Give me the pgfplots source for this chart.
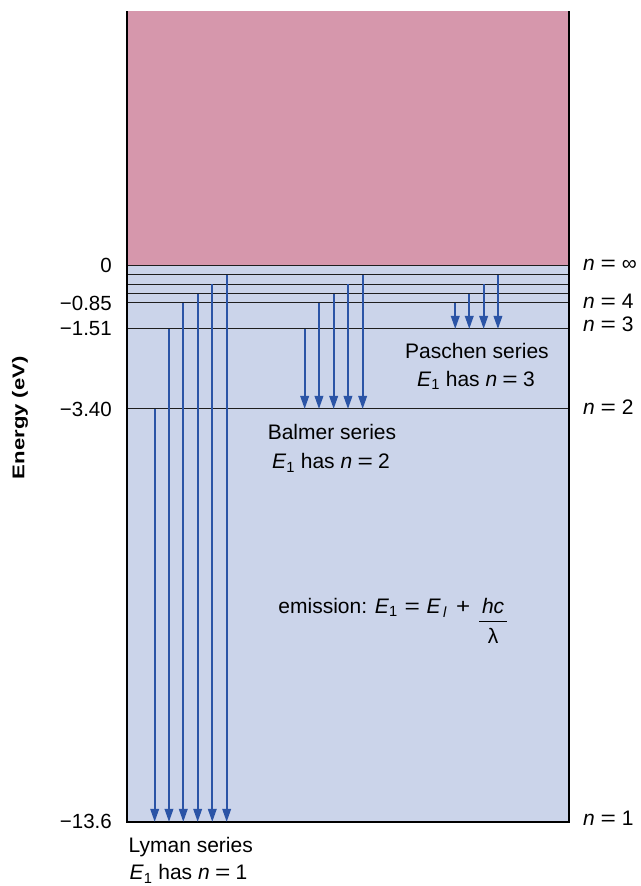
\documentclass[border=0pt]{standalone}
\usepackage{fontspec}
\setmainfont{Liberation Sans}
\usepackage{pgfplots}
\usepackage{pgfplotstable}
\pgfplotsset{compat=1.18}
\usetikzlibrary{arrows.meta}
\definecolor{vac}{RGB}{214,151,172}
\definecolor{bound}{RGB}{203,212,234}
\definecolor{arr}{RGB}{43,84,166}
\definecolor{lvl}{RGB}{30,30,30}
\newcommand{\eq}[1][0.25em]{\hspace{#1}\scalebox{1.25}[1]{=}\hspace{#1}}

% transitions: x position, start level, end level (display energy units)
\pgfplotstableread{
x y0 y1
154.7 -3.508 -13.59
169.0 -1.555 -13.59
183.3 -0.920 -13.59
197.7 -0.693 -13.59
212.3 -0.457 -13.59
226.7 -0.229 -13.59
304.7 -1.555 -3.508
319.0 -0.920 -3.508
333.7 -0.693 -3.508
348.0 -0.457 -3.508
362.7 -0.229 -3.508
455.3 -0.920 -1.555
469.3 -0.693 -1.555
483.7 -0.457 -1.555
498.0 -0.229 -1.555
}\transitions

\begin{document}
\begin{tikzpicture}[font=\fontsize{21}{25}\selectfont]
\begin{axis}[
  scale only axis, width=442pt, height=811pt,
  xmin=127, xmax=569, ymin=-13.59, ymax=6.208,
  clip=false,
  axis line style={draw=none},
  xtick=\empty,
  ytick={0,-0.920,-1.555,-3.508,-13.59},
  yticklabels={0,−0.85,−1.51,−3.40,−13.6},
  major tick length=0pt,
  yticklabel style={font=\fontsize{20.5}{24}\selectfont, inner sep=0pt, xshift=-15pt},
  ylabel={\scalebox{1.3}[1]{\fontsize{17}{20}\selectfont\bfseries Energy (eV)}},
  ylabel style={at={(axis description cs:-0.242,0.4985)}, anchor=center, inner sep=0pt},
]
% regions
\addplot[fill=vac, draw=none] coordinates {(127,0) (569,0) (569,6.208) (127,6.208)} -- cycle;
\addplot[fill=bound, draw=none] coordinates {(127,-13.59) (569,-13.59) (569,0) (127,0)} -- cycle;
% energy levels
\addplot[lvl, line width=1pt] coordinates {(127,0) (569,0)};
\addplot[lvl, line width=1pt] coordinates {(127,-0.229) (569,-0.229)};
\addplot[lvl, line width=1pt] coordinates {(127,-0.457) (569,-0.457)};
\addplot[lvl, line width=1pt] coordinates {(127,-0.693) (569,-0.693)};
\addplot[lvl, line width=1pt] coordinates {(127,-0.920) (569,-0.920)};
\addplot[lvl, line width=1pt] coordinates {(127,-1.555) (569,-1.555)};
\addplot[lvl, line width=1pt] coordinates {(127,-3.508) (569,-3.508)};
% frame
\addplot[black, line width=1.6pt] coordinates {(127,6.208) (127,-13.59) (569,-13.59) (569,6.208)};
% transitions
\addplot[arr, line width=1.9pt, no markers, -{Triangle[length=13pt,width=8.5pt]},
  quiver={u=0, v=\thisrow{y1}-\thisrow{y0}}] table[x=x, y=y0] {\transitions};
% level labels
\node[anchor=west, inner sep=0pt] at (axis cs:583,0) {\textit{n}\eq[0.28em]∞};
\node[anchor=west, inner sep=0pt] at (axis cs:583,-0.889) {\textit{n}\eq[0.28em]4};
\node[anchor=west, inner sep=0pt] at (axis cs:583,-1.433) {\textit{n}\eq[0.28em]3};
\node[anchor=west, inner sep=0pt] at (axis cs:583,-3.47) {\textit{n}\eq[0.28em]2};
\node[anchor=west, inner sep=0pt] at (axis cs:583,-13.51) {\textit{n}\eq[0.28em]1};
% series labels
\node[anchor=base, inner sep=0pt] at (axis cs:477,-2.270) {Paschen series};
\node[anchor=base, inner sep=0pt] at (axis cs:476,-2.947) {\textit{E}\textsubscript{1} has \textit{n}\eq 3};
\node[anchor=base, inner sep=0pt] at (axis cs:332,-4.265) {Balmer series};
\node[anchor=base, inner sep=0pt] at (axis cs:331,-4.973) {\textit{E}\textsubscript{1} has \textit{n}\eq 2};
\node[anchor=base, inner sep=0pt] at (axis cs:190.8,-14.348) {Lyman series};
\node[anchor=base, inner sep=0pt] at (axis cs:188.5,-15.007) {\textit{E}\textsubscript{1} has \textit{n}\eq 1};
\node[anchor=base west, inner sep=0pt] at (axis cs:278.3,-8.501) {emission: \textit{E}\textsubscript{1}\eq[0.32em]\textit{E}\textsubscript{\,\textit{l}}\hspace{0.42em}\scalebox{1.15}[1]{+}\hspace{0.42em}{\setlength{\arrayrulewidth}{1.2pt}\begin{tabular}[t]{@{\hspace{3pt}}c@{\hspace{3pt}}}\textit{hc}\\\hline\rule{0pt}{21pt}λ\end{tabular}}};
\coordinate (bl) at (axis cs:0,-15.154);
\coordinate (tr) at (axis cs:641,6.477);
\end{axis}
\pgfresetboundingbox
\path[use as bounding box] (bl) rectangle (tr);
\end{tikzpicture}
\end{document}
